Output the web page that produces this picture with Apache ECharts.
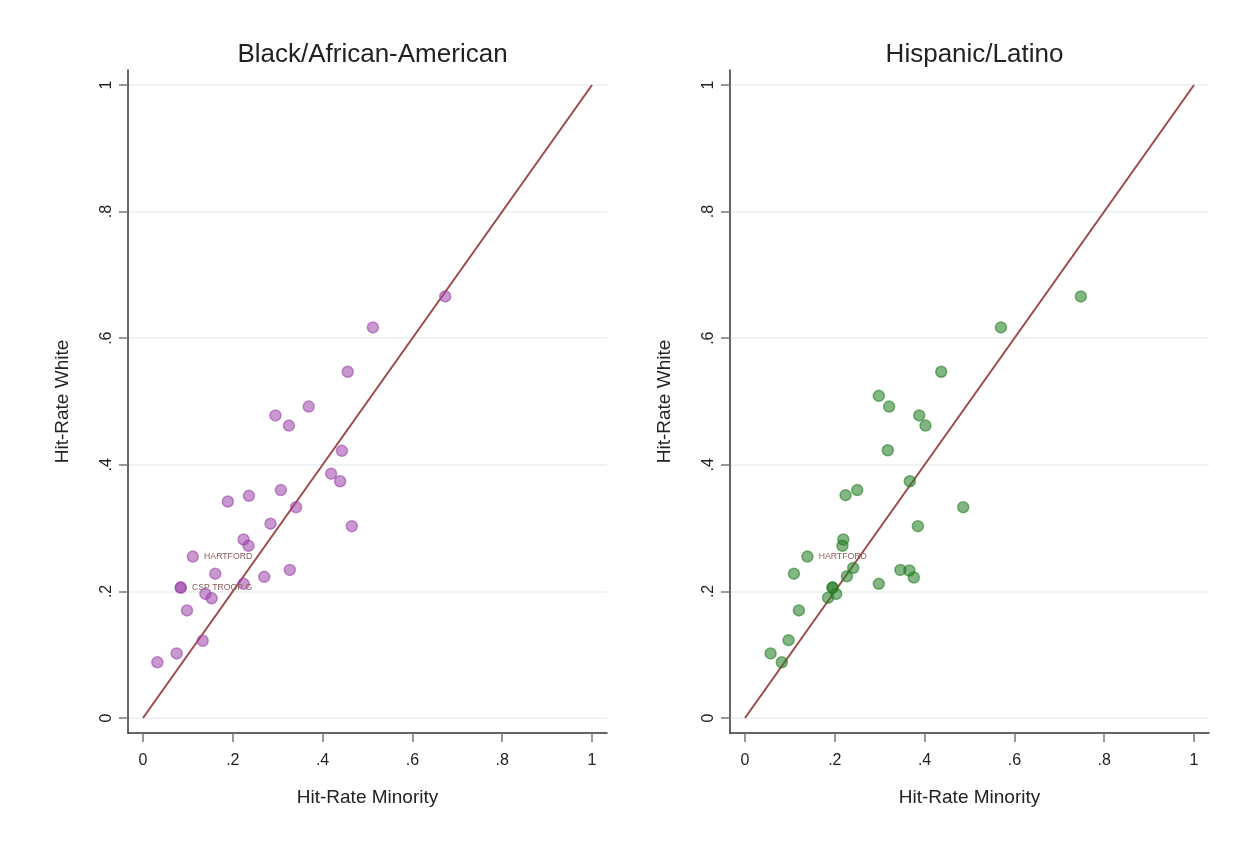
<!DOCTYPE html>
<html><head><meta charset="utf-8">
<script src="https://cdn.jsdelivr.net/npm/echarts@6/dist/echarts.min.js"></script>
<style>html,body{margin:0;padding:0;background:#fff}#c{width:1249px;height:850px}</style>
</head><body><div id="c"></div>
<script>
const tickValues = [0, 0.2, 0.4, 0.6, 0.8, 1];
const tickLabels = ["0", ".2", ".4", ".6", ".8", "1"];
const panelTitles = ["Black/African-American", "Hispanic/Latino"];
const xTitle = "Hit-Rate Minority";
const yTitle = "Hit-Rate White";

const blackX = [0.673,0.512,0.456,0.369,0.295,0.325,0.443,0.419,0.439,0.307,0.236,0.189,0.341,0.284,0.465,0.224,0.235,0.111,0.327,0.161,0.270,0.224,0.084,0.084,0.139,0.153,0.098,0.133,0.075,0.032];
const blackY = [0.666,0.617,0.547,0.492,0.478,0.462,0.422,0.386,0.374,0.360,0.351,0.342,0.333,0.307,0.303,0.282,0.272,0.255,0.234,0.228,0.223,0.212,0.206,0.206,0.196,0.189,0.170,0.122,0.102,0.088];
const blackLabels = {17: "HARTFORD", 22: "CSP TROOP G"};

const hispX = [0.748,0.570,0.437,0.298,0.321,0.388,0.402,0.318,0.367,0.250,0.224,0.486,0.385,0.219,0.217,0.139,0.241,0.346,0.366,0.109,0.227,0.376,0.298,0.195,0.195,0.203,0.185,0.120,0.097,0.057,0.082];
const hispY = [0.666,0.617,0.547,0.509,0.492,0.478,0.462,0.423,0.374,0.360,0.352,0.333,0.303,0.282,0.272,0.255,0.237,0.234,0.233,0.228,0.224,0.222,0.212,0.206,0.206,0.196,0.190,0.170,0.123,0.102,0.088];
const hispLabels = {15: "HARTFORD"};

const diagonal = [[0,0],[1,1]];

const fmt = v => { const i = tickValues.findIndex(t => Math.abs(t - v) < 1e-6); return i >= 0 ? tickLabels[i] : ''; };
const FONT = 'Liberation Sans, Arial, sans-serif';

function mkPoints(xs, ys, labels) {
  return xs.map((x, i) => {
    const d = {value: [x, ys[i]]};
    if (labels[i]) {
      d.label = {show: true, formatter: labels[i], position: 'right', distance: 5,
        fontSize: 8.7, color: '#8a5a5a', fontFamily: FONT};
    }
    return d;
  });
}

const gridLefts = [128, 730];
const grids = gridLefts.map(l => ({left: l, top: 70, width: 479, height: 663, containLabel: false}));

const xAxes = [0,1].map(i => ({
  gridIndex: i, type: 'value', min: -0.0334, max: 1.0334,
  name: xTitle, nameLocation: 'middle', nameGap: 55,
  nameTextStyle: {fontSize: 19, color: '#222', fontFamily: FONT},
  axisLine: {show: true, onZero: false, lineStyle: {color: '#333', width: 1.5}},
  axisTick: {show: true, length: 9, customValues: tickValues, lineStyle: {color: '#777', width: 1.5}},
  axisLabel: {customValues: tickValues, formatter: fmt, fontSize: 16, color: '#222', margin: 20, fontFamily: FONT},
  splitLine: {show: false}
}));
const yAxes = [0,1].map(i => ({
  gridIndex: i, type: 'value', min: -0.0237, max: 1.0237,
  name: yTitle, nameLocation: 'middle', nameGap: 56, nameRotate: 90,
  nameTextStyle: {fontSize: 19, color: '#222', fontFamily: FONT},
  axisLine: {show: true, onZero: false, lineStyle: {color: '#333', width: 1.5}},
  axisTick: {show: true, length: 9, customValues: tickValues, lineStyle: {color: '#777', width: 1.5}},
  axisLabel: {customValues: tickValues, formatter: fmt, fontSize: 16, color: '#222', margin: 13, rotate: 90, fontFamily: FONT},
  splitLine: {show: false}
}));

const gridLineMark = {
  silent: true, symbol: ['none','none'], label: {show: false}, z: 0,
  lineStyle: {color: '#eef4f5', width: 2, type: 'solid'},
  data: tickValues.map(v => ({yAxis: v}))
};

const colors = [
  {fill: 'rgba(158,68,170,0.55)', border: 'rgba(150,60,165,0.55)'},
  {fill: 'rgba(40,130,40,0.58)', border: 'rgba(30,120,30,0.55)'}
];

const series = [];
[[blackX, blackY, blackLabels], [hispX, hispY, hispLabels]].forEach((p, i) => {
  series.push({type: 'line', xAxisIndex: i, yAxisIndex: i, data: [], markLine: gridLineMark, z: 0});
  series.push({type: 'line', xAxisIndex: i, yAxisIndex: i, data: diagonal, symbol: 'none',
    lineStyle: {color: '#9e4848', width: 2}, z: 6, silent: true});
  series.push({type: 'scatter', xAxisIndex: i, yAxisIndex: i, data: mkPoints(p[0], p[1], p[2]),
    symbolSize: 11, z: 7,
    itemStyle: {color: colors[i].fill, borderColor: colors[i].border, borderWidth: 1.5, opacity: 1}});
});

const chart = echarts.init(document.getElementById('c'), null, {renderer: 'canvas'});
chart.setOption({
  animation: false,
  backgroundColor: '#fff',
  title: panelTitles.map((t, i) => ({text: t, left: gridLefts[i] + 239.5, textAlign: 'center', top: 37,
    textStyle: {fontSize: 26, fontWeight: 'normal', color: '#222', fontFamily: FONT}})),
  grid: grids, xAxis: xAxes, yAxis: yAxes, series: series
});
</script></body></html>
